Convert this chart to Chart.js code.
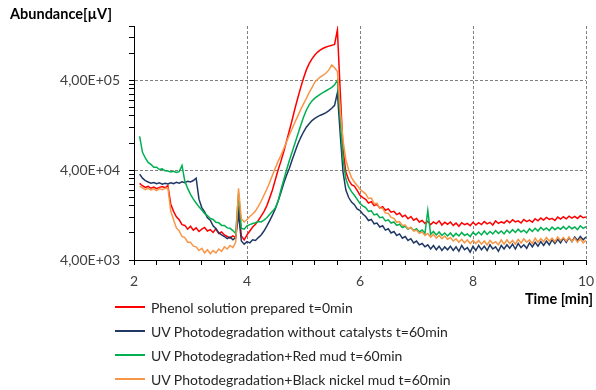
<!DOCTYPE html>
<html>
<head>
<meta charset="utf-8">
<script src="https://cdn.jsdelivr.net/npm/chart.js@4.4.0/dist/chart.umd.min.js"></script>
<style>
  body { margin: 0; background: #fff; font-family: Lato, sans-serif; }
  #wrap { position: relative; width: 596px; height: 390px; }
  .axis-title { position: absolute; font-weight: bold; font-size: 14.5px; color: #000; white-space: nowrap; }
  #legend { position: absolute; left: 115px; top: 295px; }
  .leg-row { display: flex; align-items: center; height: 24px; font-size: 14px; color: #262626; white-space: nowrap; }
  .leg-line { width: 30px; height: 2px; margin-right: 6px; }
</style>
</head>
<body>
<div id="wrap">
  <canvas id="chart" width="596" height="390"></canvas>
  <div class="axis-title" style="left:10px; top:5px;">Abundance[µV]</div>
  <div class="axis-title" style="right:3px; top:290px;">Time [min]</div>
  <div id="legend"></div>
</div>
<script>
// Retention time (min), one sample every 0.05 min
const times = [
  2.10, 2.15, 2.20, 2.25, 2.30, 2.35, 2.40, 2.45, 2.50, 2.55,
  2.60, 2.65, 2.70, 2.75, 2.80, 2.85, 2.90, 2.95, 3.00, 3.05,
  3.10, 3.15, 3.20, 3.25, 3.30, 3.35, 3.40, 3.45, 3.50, 3.55,
  3.60, 3.65, 3.70, 3.75, 3.80, 3.85, 3.90, 3.95, 4.00, 4.05,
  4.10, 4.15, 4.20, 4.25, 4.30, 4.35, 4.40, 4.45, 4.50, 4.55,
  4.60, 4.65, 4.70, 4.75, 4.80, 4.85, 4.90, 4.95, 5.00, 5.05,
  5.10, 5.15, 5.20, 5.25, 5.30, 5.35, 5.40, 5.45, 5.50, 5.55,
  5.60, 5.65, 5.70, 5.75, 5.80, 5.85, 5.90, 5.95, 6.00, 6.05,
  6.10, 6.15, 6.20, 6.25, 6.30, 6.35, 6.40, 6.45, 6.50, 6.55,
  6.60, 6.65, 6.70, 6.75, 6.80, 6.85, 6.90, 6.95, 7.00, 7.05,
  7.10, 7.15, 7.20, 7.25, 7.30, 7.35, 7.40, 7.45, 7.50, 7.55,
  7.60, 7.65, 7.70, 7.75, 7.80, 7.85, 7.90, 7.95, 8.00, 8.05,
  8.10, 8.15, 8.20, 8.25, 8.30, 8.35, 8.40, 8.45, 8.50, 8.55,
  8.60, 8.65, 8.70, 8.75, 8.80, 8.85, 8.90, 8.95, 9.00, 9.05,
  9.10, 9.15, 9.20, 9.25, 9.30, 9.35, 9.40, 9.45, 9.50, 9.55,
  9.60, 9.65, 9.70, 9.75, 9.80, 9.85, 9.90, 9.95, 10.00
];

// Abundance (µV) for each sample
const phenolT0 = [
  28500, 26800, 25600, 26300, 25100, 25900, 24800, 25700, 26200, 25400,
  26900, 16800, 13900, 12100, 11200, 9900, 9700, 8800, 9500, 8600,
  9100, 8300, 8800, 9200, 8400, 8700, 8100, 8900, 7900, 8200,
  7600, 7300, 7000, 7400, 7100, 16000, 7400, 6700, 7600, 8400,
  9300, 10000, 11000, 12300, 13800, 16000, 19500, 24000, 31000, 40000,
  50000, 64000, 84000, 110000, 145000, 195000, 255000, 330000, 420000, 520000,
  610000, 690000, 760000, 820000, 870000, 905000, 935000, 955000, 975000, 1000000,
  1450000, 300000, 68000, 38000, 31000, 27500, 26500, 23800, 21000, 19800,
  18900, 17200, 17800, 16100, 16600, 15200, 15700, 14300, 14800, 13600,
  13900, 12800, 13300, 12100, 12600, 11500, 12200, 11100, 11600, 10600,
  11000, 10200, 10800, 9900, 10600, 10100, 10900, 9800, 10500, 10000,
  10600, 9700, 10300, 9500, 10400, 9900, 10200, 9600, 10500, 9800,
  10400, 9900, 10700, 10100, 10500, 9800, 10900, 10200, 10600, 10300,
  11000, 10400, 11200, 10600, 10900, 10300, 11300, 10700, 11100, 10500,
  11500, 10900, 11700, 11100, 11900, 11300, 11600, 11000, 12000, 11400,
  12100, 11500, 12300, 11700, 12200, 11600, 12400, 11800, 12000
];

const uvNoCatalyst = [
  36000, 32500, 30500, 29500, 28600, 29100, 28200, 28800, 27900, 28500,
  28000, 28900, 28300, 29200, 28600, 29600, 29000, 30100, 29500, 30600,
  32500, 19000, 15300, 13700, 11800, 11100, 9600, 8900, 8000, 7600,
  7300, 6900, 7200, 6700, 7100, 13000, 6500, 6000, 6400, 6200,
  6700, 6600, 7100, 7600, 8400, 9500, 10900, 12600, 14800, 18000,
  22500, 28500, 35000, 42000, 52000, 64000, 78000, 92000, 106000, 120000,
  131000, 142000, 150000, 157000, 163000, 168000, 174000, 183000, 195000, 210000,
  290000, 100000, 38000, 24000, 19800, 17600, 16500, 14800, 14200, 13000,
  12200, 11000, 11300, 10100, 10300, 9300, 9600, 8600, 8900, 8000,
  8300, 7500, 7800, 7000, 7300, 6600, 6900, 6200, 6500, 5900,
  6100, 5600, 5900, 5300, 5800, 5200, 5700, 5100, 5600, 5200,
  5700, 5100, 5600, 5000, 5800, 5200, 5500, 4900, 5700, 5100,
  5800, 5200, 5700, 5100, 5900, 5300, 5600, 5000, 5800, 5300,
  5900, 5400, 6000, 5300, 6100, 5500, 5900, 5400, 6200, 5600,
  6300, 5700, 6400, 5800, 6500, 5900, 6700, 6100, 6800, 6200,
  7000, 6300, 7100, 6400, 7200, 6600, 7300, 6700, 7200
];

const uvRedMud = [
  95000, 63000, 54500, 48600, 46200, 43000, 43100, 40600, 41200, 39300,
  39000, 38200, 38800, 37600, 38400, 45000, 30000, 25000, 21500, 19000,
  17200, 15600, 14400, 13100, 12500, 11600, 11300, 10500, 10400, 9700,
  9700, 9100, 9000, 8500, 7900, 22000, 9000, 8800, 9600, 9900,
  10200, 10400, 10700, 10600, 11100, 11800, 12800, 13900, 15200, 18000,
  24000, 31000, 40000, 51000, 64000, 80000, 100000, 125000, 155000, 185000,
  212000, 235000, 252000, 266000, 280000, 292000, 305000, 318000, 332000, 355000,
  400000, 150000, 52000, 32000, 26000, 23000, 21000, 18900, 17000, 16000,
  15300, 13900, 14100, 12700, 13000, 11800, 12000, 10900, 11200, 10300,
  10600, 9700, 10000, 9200, 9500, 8800, 9200, 8500, 8900, 8200,
  8600, 7900, 14200, 7700, 8300, 7600, 8200, 7500, 8000, 7400,
  8000, 7300, 7900, 7400, 8100, 7500, 7800, 7300, 8100, 7600,
  8200, 7600, 8400, 7700, 8300, 7800, 8500, 7900, 8400, 7800,
  8600, 8000, 8700, 8100, 8800, 8200, 8600, 8000, 8900, 8300,
  9000, 8400, 9200, 8600, 9100, 8500, 9300, 8700, 9200, 8800,
  9400, 8800, 9500, 8900, 9300, 8700, 9600, 9000, 9400
];

const uvBlackNickelMud = [
  26500, 25400, 24300, 25100, 24000, 24800, 23700, 24900, 24200, 25000,
  25500, 14000, 11200, 9100, 8400, 7300, 7100, 6300, 6300, 5700,
  5600, 5100, 5400, 4800, 5200, 4700, 5100, 4800, 5300, 5000,
  5600, 5300, 5800, 5500, 6300, 25000, 11500, 10600, 11300, 12200,
  13000, 14000, 15800, 18000, 21000, 24500, 29000, 35000, 42000, 50000,
  58000, 69000, 82000, 98000, 116000, 137000, 160000, 188000, 218000, 250000,
  290000, 330000, 380000, 410000, 435000, 455000, 480000, 520000, 590000, 550000,
  500000, 190000, 85000, 52000, 40000, 33000, 29500, 27000, 24500, 23000,
  21800, 19300, 19500, 17000, 17100, 15100, 15000, 13300, 13200, 11900,
  11600, 10500, 10700, 9700, 9800, 8900, 9200, 8400, 8600, 7900,
  8200, 7500, 7900, 7200, 7700, 7000, 7500, 6900, 7400, 6800,
  7100, 6500, 6900, 6300, 6800, 6200, 6700, 6100, 6600, 6100,
  6600, 6000, 6500, 5900, 6600, 6100, 6400, 5900, 6700, 6000,
  6700, 6100, 6600, 6000, 6800, 6200, 6900, 6300, 6700, 6100,
  7000, 6300, 6900, 6400, 7100, 6500, 7000, 6400, 7200, 6600,
  7100, 6500, 7200, 6400, 7000, 6300, 6900, 6200, 6600
];

const seriesNames = [
  'Phenol solution prepared t=0min',
  'UV Photodegradation without catalysts t=60min',
  'UV Photodegradation+Red mud t=60min',
  'UV Photodegradation+Black nickel mud t=60min'
];
const seriesColors = ['#ff0000', '#1f3864', '#00b050', '#f79646'];

// Axis ticks
const xMajorTicks = [2, 4, 6, 8, 10];
const xTickLabels = ['2', '4', '6', '8', '10'];
const yMajorTicks = [4000, 40000, 400000];
const yTickLabels = ['4,00E+03', '4,00E+04', '4,00E+05'];
const yMax = 1600000;

// minor ticks: every 0.4 min on x, every multiple of the decade start on y
const xTickValues = [];
for (let i = 0; i <= 20; i++) xTickValues.push(Math.round((2 + i * 0.4) * 10) / 10);
const yTickValues = [];
yMajorTicks.forEach((base) => {
  for (let k = 1; k <= 9; k++) {
    if (base * k <= yMax) yTickValues.push(base * k);
  }
});

const tickFont = { family: 'Lato', size: 14 };
const gridGray = '#808080';

const allSeries = [phenolT0, uvNoCatalyst, uvRedMud, uvBlackNickelMud];
const datasets = allSeries.map((values, idx) => ({
  label: seriesNames[idx],
  data: times.map((t, i) => ({ x: t, y: values[i] })),
  borderColor: seriesColors[idx],
  borderWidth: 1.5,
  pointRadius: 0,
  tension: 0,
  fill: false,
  order: 4 - idx
}));

new Chart(document.getElementById('chart').getContext('2d'), {
  type: 'line',
  data: { datasets },
  options: {
    responsive: false,
    animation: false,
    layout: { padding: { left: 0, right: 10, top: 26, bottom: 0 } },
    plugins: {
      legend: { display: false },
      tooltip: { enabled: false }
    },
    scales: {
      x: {
        type: 'linear',
        min: 2,
        max: 10,
        afterBuildTicks(scale) {
          scale.ticks = xTickValues.map((v) => ({ value: v }));
        },
        afterFit(scale) {
          // fixed axis band; labels may overhang the plot edges
          scale.height = 130;
          scale.paddingLeft = 0;
          scale.paddingRight = 0;
        },
        ticks: {
          autoSkip: false,
          maxRotation: 0,
          padding: 8,
          color: '#404040',
          font: tickFont,
          callback(value) {
            const i = xMajorTicks.indexOf(Math.round(value * 10) / 10);
            return i >= 0 ? xTickLabels[i] : '';
          }
        },
        grid: {
          color(ctx) {
            const v = ctx.tick ? Math.round(ctx.tick.value * 10) / 10 : 0;
            return (v !== 2 && xMajorTicks.includes(v)) ? gridGray : 'rgba(0,0,0,0)';
          },
          tickColor: '#000',
          tickLength: 5
        },
        border: { color: '#000', width: 1, dash: [3, 2] }
      },
      y: {
        type: 'logarithmic',
        min: 4000,
        max: yMax,
        afterBuildTicks(scale) {
          scale.ticks = yTickValues.map((v) => ({ value: v }));
        },
        afterFit(scale) {
          scale.width = 134;
          scale.paddingTop = 0;
          scale.paddingBottom = 0;
        },
        ticks: {
          autoSkip: false,
          padding: 9,
          color: '#404040',
          font: tickFont,
          callback(value) {
            const i = yMajorTicks.indexOf(value);
            return i >= 0 ? yTickLabels[i] : '';
          }
        },
        grid: {
          color(ctx) {
            const v = ctx.tick ? ctx.tick.value : 0;
            return (v !== 4000 && yMajorTicks.includes(v)) ? gridGray : 'rgba(0,0,0,0)';
          },
          tickColor: '#000',
          tickLength: 5
        },
        border: { color: '#000', width: 1, dash: [3, 2] }
      }
    }
  }
});

// Legend as a plain vertical list under the plot
const legend = document.getElementById('legend');
seriesNames.forEach((name, idx) => {
  const row = document.createElement('div');
  row.className = 'leg-row';
  row.innerHTML = `<span class="leg-line" style="background:${seriesColors[idx]}"></span>${name}`;
  legend.appendChild(row);
});
</script>
</body>
</html>
